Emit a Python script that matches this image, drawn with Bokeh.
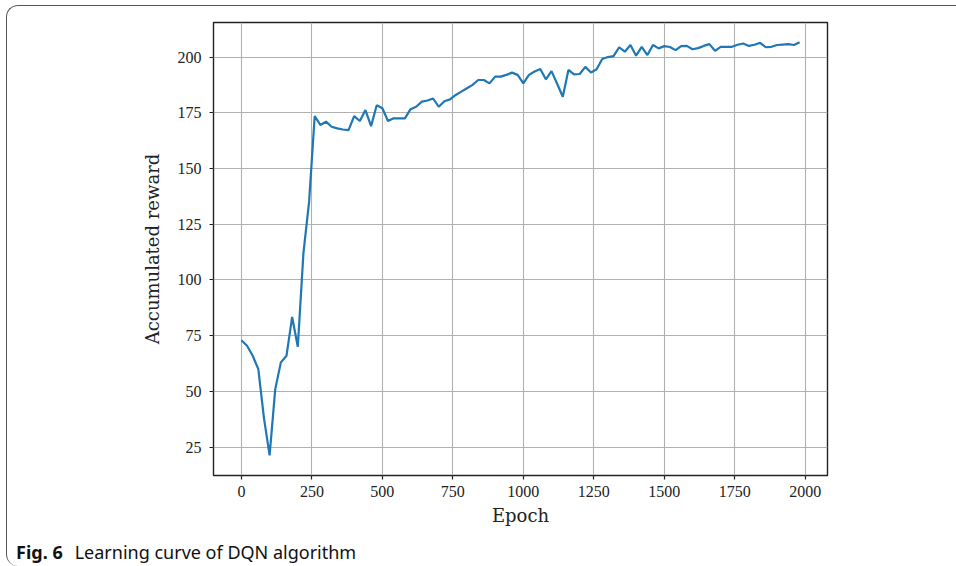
from bokeh.plotting import figure
from bokeh.models import Range1d, FixedTicker, Div
from bokeh.layouts import column
from bokeh.embed import file_html
from bokeh.resources import INLINE

epochs = list(range(0, 2000, 20))
reward = [
    72.9, 70.5, 66.0, 60.0, 38.0, 21.3, 51.0, 63.0, 66.0, 83.4,
    70.0, 112.0, 135.0, 173.5, 169.5, 171.0, 168.7, 168.0, 167.5, 167.2,
    173.5, 171.3, 176.2, 169.0, 178.4, 177.0, 171.3, 172.5, 172.5, 172.5,
    176.6, 177.7, 180.0, 180.5, 181.4, 177.7, 180.2, 181.0, 183.0, 184.5,
    186.0, 187.5, 189.7, 189.7, 188.2, 191.2, 191.2, 192.0, 193.0, 192.0,
    188.2, 192.0, 193.5, 194.6, 190.0, 193.7, 188.0, 182.2, 194.2, 192.2,
    192.4, 195.6, 193.1, 194.5, 199.1, 200.0, 200.4, 204.4, 202.4, 205.4,
    200.6, 204.6, 200.9, 205.4, 203.9, 204.9, 204.5, 203.1, 204.9, 205.0,
    203.5, 204.0, 205.0, 205.8, 202.8, 204.6, 204.6, 204.6, 205.5, 206.1,
    205.0, 205.5, 206.4, 204.4, 204.6, 205.4, 205.6, 205.8, 205.4, 206.6,
]
x_ticks = [0, 250, 500, 750, 1000, 1250, 1500, 1750, 2000]
y_ticks = [25, 50, 75, 100, 125, 150, 175, 200]
x_label = "Epoch"
y_label = "Accumulated reward"
caption_bold = "Fig. 6"
caption_text = "Learning curve of DQN algorithm"

# outer box offset in the page
OX, OY = 6, 5
W, H = 950, 528
# frame position in page pixels
FL, FR, FT, FB = 212, 827, 21, 474

p = figure(width=W, height=H, output_backend="svg", toolbar_location=None,
           x_range=Range1d(-99, 2079), y_range=Range1d(12.25, 215.5))
p.min_border_left = FL - OX
p.min_border_right = W - (FR - OX)
p.min_border_top = FT - OY
p.min_border_bottom = H - (FB - OY)
p.background_fill_color = "white"
p.border_fill_color = None
p.outline_line_color = "#222222"
p.outline_line_width = 1.4

p.line(epochs, reward, line_color="#1f77b4", line_width=2.2)

for ax in (p.xaxis[0], p.yaxis[0]):
    ax.axis_line_color = None
    ax.minor_tick_line_color = None
    ax.major_tick_in = 0
    ax.major_tick_out = 4
    ax.major_tick_line_color = "#222222"
    ax.major_tick_line_width = 1.2
    ax.major_label_text_font = "Liberation Serif"
    ax.major_label_text_font_size = "16px"
    ax.major_label_text_color = "#222222"
    ax.axis_label_text_font = "DejaVu Serif"
    ax.axis_label_text_font_size = "18px"
    ax.axis_label_text_font_style = "normal"
    ax.axis_label_text_color = "#222222"

p.xaxis.ticker = FixedTicker(ticks=x_ticks)
p.yaxis.ticker = FixedTicker(ticks=y_ticks)
p.xaxis.axis_label = x_label
p.yaxis.axis_label = y_label
p.xaxis.major_label_standoff = 6
p.yaxis.major_label_standoff = 8
p.xaxis.axis_label_standoff = 5
p.yaxis.axis_label_standoff = 12

p.xgrid.ticker = FixedTicker(ticks=x_ticks)
p.ygrid.ticker = FixedTicker(ticks=y_ticks)
p.grid.grid_line_color = "#b0b0b0"
p.grid.grid_line_width = 1.1

cap = Div(text=f"<b>{caption_bold}</b><span style='margin-left:12px'>{caption_text}</span>",
          width=W, height=566 - OY - H,
          styles={"font-family": "'Noto Sans', sans-serif", "font-size": "18px",
                  "color": "#111111", "padding-left": "4px", "padding-top": "2px",
                  "line-height": "22px"})

layout = column(p, cap, width=W, height=566 - OY, margin=(OY, 0, 0, OX),
                spacing=0,
                styles={"border-top": "1.5px solid #555555",
                        "border-left": "1.5px solid #555555",
                        "border-top-left-radius": "12px",
                        "border-bottom-left-radius": "12px",
                        "background": "white"})

open("out.html", "w").write(file_html(layout, INLINE))
